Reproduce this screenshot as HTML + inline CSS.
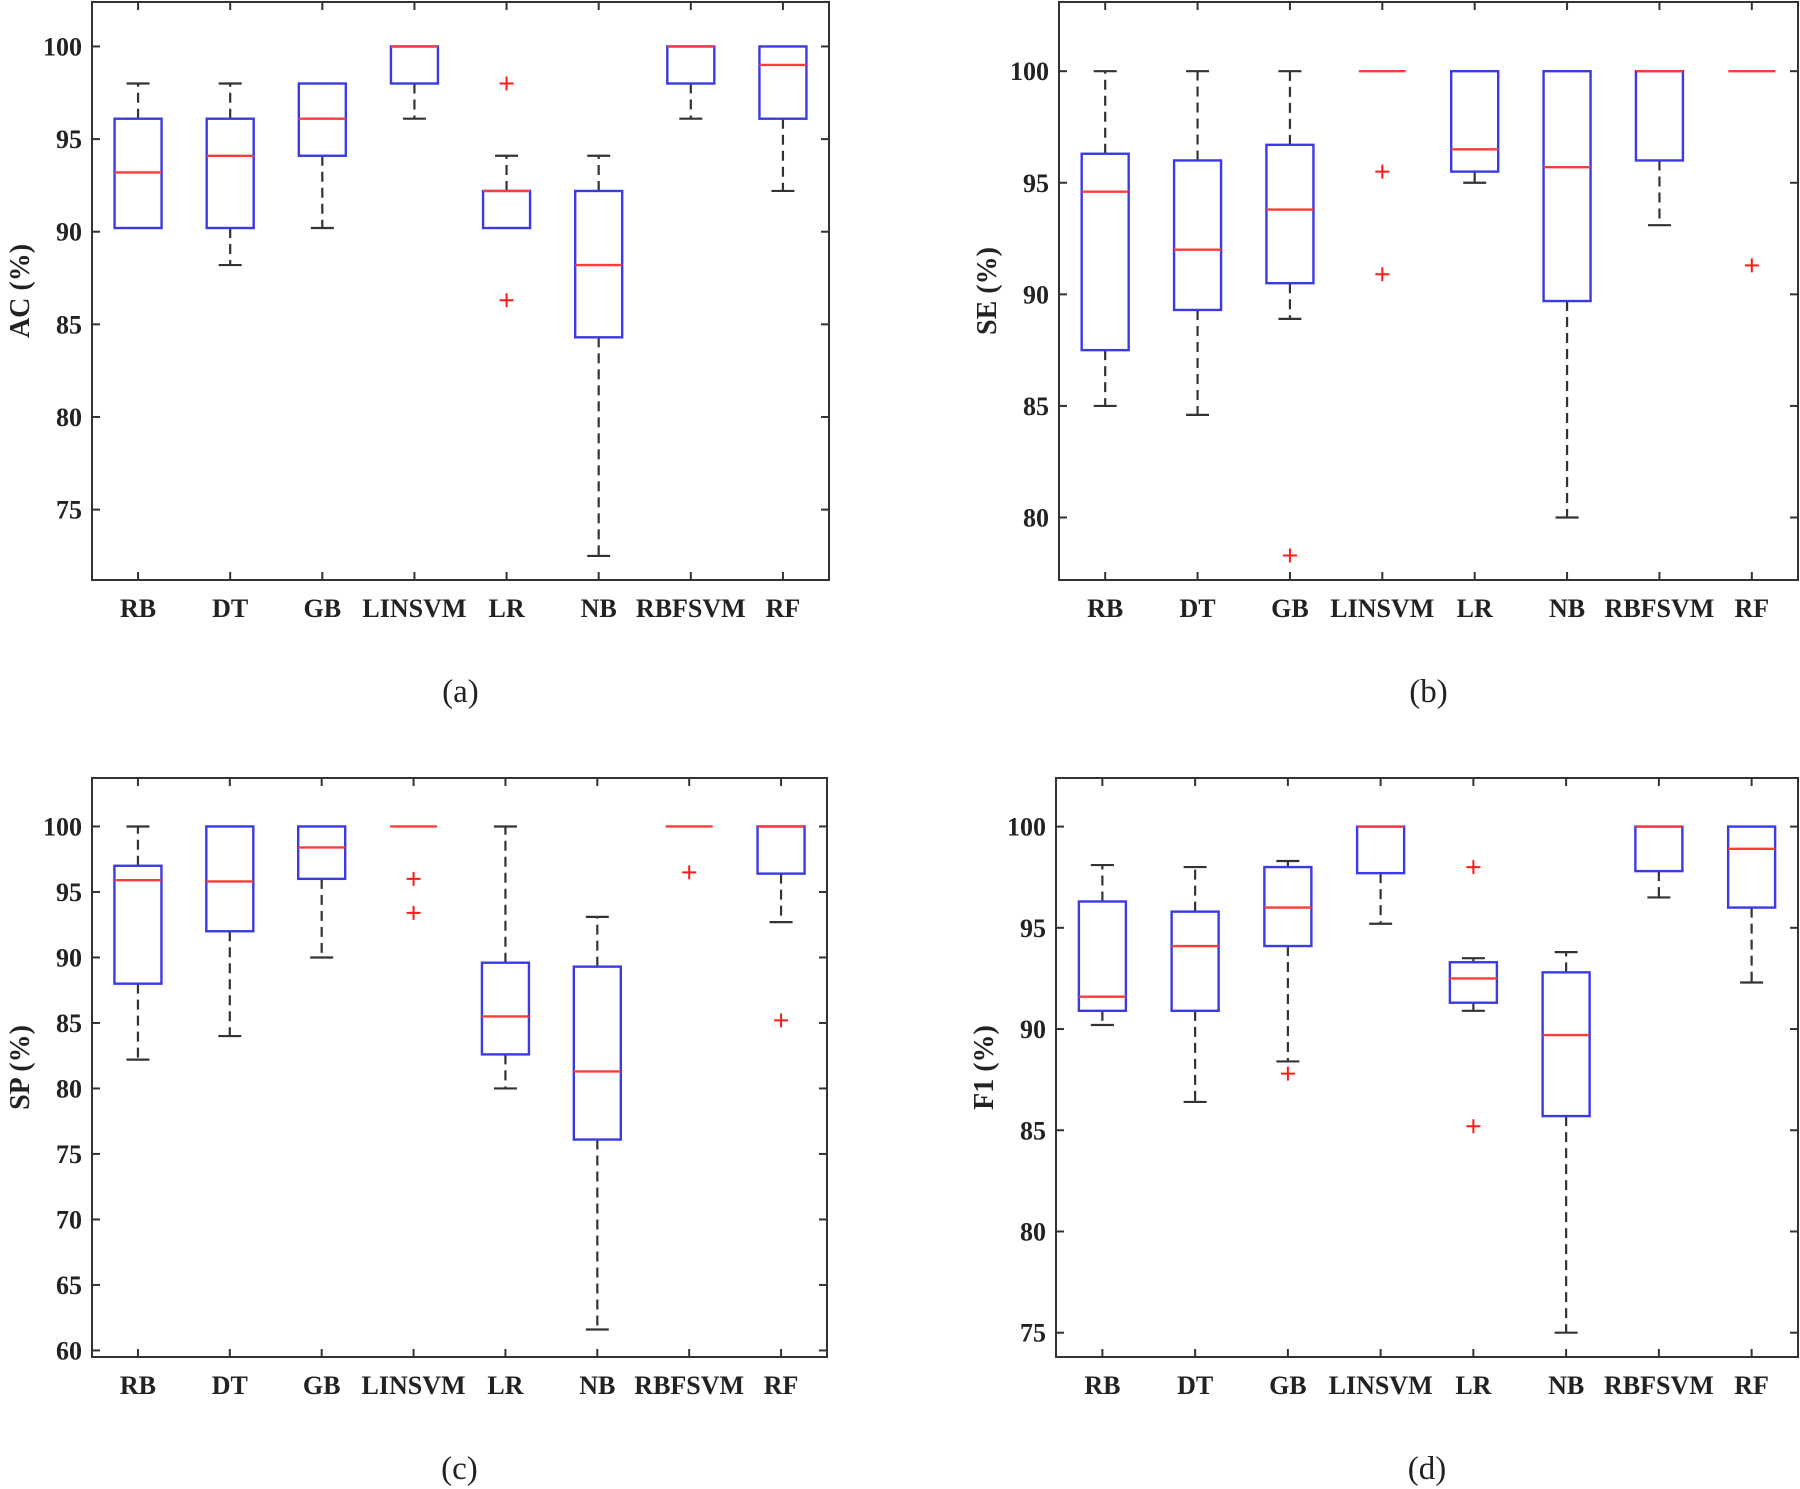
<!DOCTYPE html>
<html><head><meta charset="utf-8"><style>
html,body{margin:0;padding:0;background:#fff}
svg{display:block}
text{font-family:"Liberation Serif","Times New Roman",serif}
</style></head><body>
<svg id="fig" width="1800" height="1489" viewBox="0 0 1800 1489" xmlns="http://www.w3.org/2000/svg"></svg>
<script>
const categories = ["RB","DT","GB","LINSVM","LR","NB","RBFSVM","RF"];
// [lowWhisker, q1, median, q3, highWhisker]
const acStats = [[90.2,90.2,93.2,96.1,98],[88.2,90.2,94.1,96.1,98],[90.2,94.1,96.1,98,98],[96.1,98,100,100,100],[90.2,90.2,92.2,92.2,94.1],[72.5,84.3,88.2,92.2,94.1],[96.1,98,100,100,100],[92.2,96.1,99,100,100]];
const acOutliers = [[],[],[],[],[98,86.3],[],[],[]];
const acTicks = [75,80,85,90,95,100];
const seStats = [[85,87.5,94.6,96.3,100],[84.6,89.3,92,96,100],[88.9,90.5,93.8,96.7,100],[100,100,100,100,100],[95,95.5,96.5,100,100],[80,89.7,95.7,100,100],[93.1,96,100,100,100],[100,100,100,100,100]];
const seOutliers = [[],[],[78.3],[95.5,90.9],[],[],[],[91.3]];
const seTicks = [80,85,90,95,100];
const spStats = [[82.2,88,95.9,97,100],[84,92,95.8,100,100],[90,96,98.4,100,100],[100,100,100,100,100],[80,82.6,85.5,89.6,100],[61.6,76.1,81.3,89.3,93.1],[100,100,100,100,100],[92.7,96.4,100,100,100]];
const spOutliers = [[],[],[],[96,93.4],[],[],[96.5],[85.2]];
const spTicks = [60,65,70,75,80,85,90,95,100];
const f1Stats = [[90.2,90.9,91.6,96.3,98.1],[86.4,90.9,94.1,95.8,98],[88.4,94.1,96,98,98.3],[95.2,97.7,100,100,100],[90.9,91.3,92.5,93.3,93.5],[75,85.7,89.7,92.8,93.8],[96.5,97.8,100,100,100],[92.3,96,98.9,100,100]];
const f1Outliers = [[],[],[87.8],[],[98,85.2],[],[],[]];
const f1Ticks = [75,80,85,90,95,100];

const svg = document.getElementById('fig');
const NS = 'http://www.w3.org/2000/svg';
const FF = '"Liberation Serif", serif';
function mk(tag, attrs, parent){const e=document.createElementNS(NS,tag);for(const k in attrs)e.setAttribute(k,attrs[k]);parent.appendChild(e);return e;}

const panels = [
 {key:'ac',title:'AC (%)',cap:'(a)',stats:acStats,out:acOutliers,ticks:acTicks,L:92,R:829,T:2,B:580,ymin:71.2,ymax:102.4},
 {key:'se',title:'SE (%)',cap:'(b)',stats:seStats,out:seOutliers,ticks:seTicks,L:1059,R:1798,T:2,B:580,ymin:77.2,ymax:103.1},
 {key:'sp',title:'SP (%)',cap:'(c)',stats:spStats,out:spOutliers,ticks:spTicks,L:92,R:827,T:778,B:1357,ymin:59.5,ymax:103.7},
 {key:'f1',title:'F1 (%)',cap:'(d)',stats:f1Stats,out:f1Outliers,ticks:f1Ticks,L:1056,R:1798,T:778,B:1357,ymin:73.8,ymax:102.4}
];

panels.forEach(p=>{
  const g = mk('g',{},svg);
  
  
  const n = categories.length;
  const xs = i => p.L + (i+0.5)*(p.R-p.L)/n;
  const ys = v => p.B - (v-p.ymin)/(p.ymax-p.ymin)*(p.B-p.T);
  const frame = mk('rect',{x:p.L,y:p.T,width:p.R-p.L,height:p.B-p.T,fill:'none',stroke:'#333','stroke-width':2},g);
  
  
  p.ticks.forEach(t=>{
    const y=ys(t);
    mk('line',{x1:p.L,x2:p.L+8,y1:y,y2:y,stroke:'#333','stroke-width':2},g);
    mk('line',{x1:p.R,x2:p.R-8,y1:y,y2:y,stroke:'#333','stroke-width':2},g);
    const tl = mk('text',{x:p.L-10,y:y+9,'text-anchor':'end','font-size':26,'font-weight':'bold',fill:'#222','font-family':FF},g);
    tl.textContent = t;
    
    
  });
  categories.forEach((c,i)=>{
    const x=xs(i);
    mk('line',{x1:x,x2:x,y1:p.B,y2:p.B-8,stroke:'#333','stroke-width':2},g);
    mk('line',{x1:x,x2:x,y1:p.T,y2:p.T+8,stroke:'#333','stroke-width':2},g);
    const lb = mk('text',{x:x,y:p.B+37,'text-anchor':'middle','font-size':26,'font-weight':'bold',fill:'#222','font-family':FF},g);
    lb.textContent = c;
    
    
    const s = p.stats[i];
    const bw = 23.5, cw = 11.5;
    const wg = mk('g',{},g);
    
    
    if (s[4] > s[3]) mk('line',{x1:x,x2:x,y1:ys(s[3]),y2:ys(s[4]),stroke:'#333','stroke-width':2.2,'stroke-dasharray':'10,6'},wg);
    if (s[1] > s[0]) mk('line',{x1:x,x2:x,y1:ys(s[1]),y2:ys(s[0]),stroke:'#333','stroke-width':2.2,'stroke-dasharray':'10,6'},wg);
    if (s[4] > s[3]) mk('line',{x1:x-cw,x2:x+cw,y1:ys(s[4]),y2:ys(s[4]),stroke:'#333','stroke-width':2.2},wg);
    if (s[1] > s[0]) mk('line',{x1:x-cw,x2:x+cw,y1:ys(s[0]),y2:ys(s[0]),stroke:'#333','stroke-width':2.2},wg);
    if (s[3] > s[1]) mk('rect',{x:x-bw,y:ys(s[3]),width:2*bw,height:ys(s[1])-ys(s[3]),fill:'none',stroke:'#3a3ae6','stroke-width':2.4},wg);
    mk('line',{x1:x-bw,x2:x+bw,y1:ys(s[2]),y2:ys(s[2]),stroke:'#ff3b3b','stroke-width':2.4},wg);
    p.out[i].forEach(v=>{
      const y=ys(v);
      const o = mk('path',{d:`M${x-7},${y}H${x+7}M${x},${y-7}V${y+7}`,stroke:'#ff1a1a','stroke-width':2,fill:'none'},wg);
      
      
    });
  });
  const cy=(p.T+p.B)/2, tx=p.L-63;
  const yt = mk('text',{x:tx,y:cy,transform:`rotate(-90 ${tx} ${cy})`,'text-anchor':'middle','font-size':28,'font-weight':'bold',fill:'#222','font-family':FF},g);
  yt.textContent = p.title;
  
  
  const cp = mk('text',{x:(p.L+p.R)/2,y:p.B+122,'text-anchor':'middle','font-size':33,fill:'#222','font-family':FF},g);
  cp.textContent = p.cap;
  
  
});
</script>
</body></html>
